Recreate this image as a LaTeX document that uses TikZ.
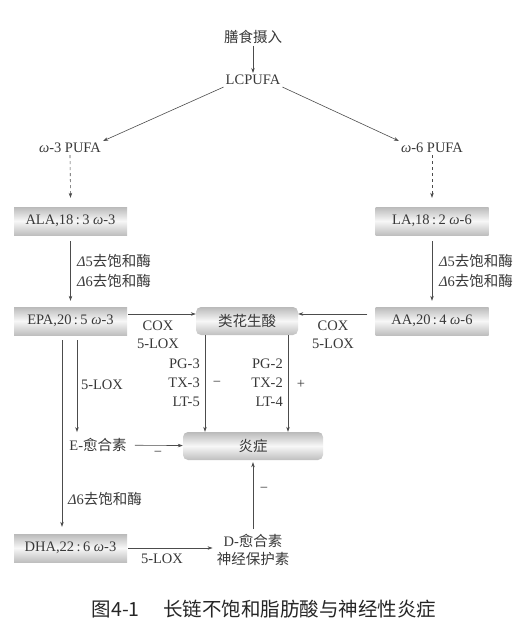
\documentclass[tikz,border=0pt]{standalone}
\usepackage{fontspec}
\setmainfont{Liberation Serif}
\newfontfamily\cjk{Noto Sans CJK SC}
\usetikzlibrary{arrows.meta}
\newcommand{\zh}[1]{{\cjk #1}}
\newcommand{\om}{{\itshape ω}}
\colorlet{textc}{black!78}
\colorlet{linec}{black!70}
\begin{document}
\begin{tikzpicture}[x=1pt,y=-1pt,
  every node/.style={text=textc,font=\fontsize{14.5}{17}\selectfont},
  txt/.style={inner sep=2pt},
  box/.style={minimum width=113pt,minimum height=28pt,inner sep=0pt,
    shading=axis,top color=black!27,bottom color=black!25,middle color=black!3},
  rbox/.style={box,rounded corners=5pt},
  arr/.style={draw=linec,line width=0.6pt,-{Stealth[length=5pt,width=3.5pt]}},
  lab/.style={inner sep=0pt},
  captxt/.style={text=black!85,font=\cjk\fontsize{19.5}{22}\selectfont}]
\useasboundingbox (0,0) rectangle (524,633);
% nodes
\node[txt] (diet) at (253,37) {\zh{膳食摄入}};
\node[txt] (lc) at (253,80) {LCPUFA};
\node[txt] (w3) at (70,148) {\om-3 PUFA};
\node[txt] (w6) at (432,148) {\om-6 PUFA};
\node[box] (ala) at (70.5,221) {ALA,18\,:\,3 \om-3};
\node[box] (la) at (432,221) {LA,18\,:\,2 \om-6};
\node[box] (epa) at (70.5,321) {EPA,20\,:\,5 \om-3};
\node[rbox,minimum width=102pt] (eic) at (247,321) {\zh{类花生酸}};
\node[box] (aa) at (432,321) {AA,20\,:\,4 \om-6};
\node[rbox,minimum width=140pt] (inf) at (253,446) {\zh{炎症}};
\node[txt] (eres) at (98,445) {E-\zh{愈合素}};
\node[box] (dha) at (70.5,548) {DHA,22\,:\,6 \om-3};
\node[txt,align=center,font=\fontsize{14.5}{18}\selectfont] (dres) at (253,550) {D-\zh{愈合素}\\\zh{神经保护素}};
% labels
\node[lab,anchor=west] (l1) at (77,261) {{\itshape Δ}5\zh{去饱和酶}};
\node[lab,anchor=west] (l2) at (77,281) {{\itshape Δ}6\zh{去饱和酶}};
\node[lab,anchor=west] (r1) at (439,261) {{\itshape Δ}5\zh{去饱和酶}};
\node[lab,anchor=west] (r2) at (439,281) {{\itshape Δ}6\zh{去饱和酶}};
\node[lab] (c1) at (158,326) {COX};
\node[lab] (c2) at (158,344) {5-LOX};
\node[lab] (c3) at (333,326) {COX};
\node[lab] (c4) at (333,344) {5-LOX};
\node[lab,anchor=east,align=right,font=\fontsize{14.5}{19}\selectfont] (pg3) at (200,383) {PG-3\\TX-3\\LT-5};
\node[lab,anchor=east,align=right,font=\fontsize{14.5}{19}\selectfont] (pg2) at (283,383) {PG-2\\TX-2\\LT-4};
\node[lab] (m1) at (217,384) {−};
\node[lab] (p1) at (301,384) {+};
\node[lab] (lox) at (102,385) {5-LOX};
\node[lab] (m2) at (158,454) {−};
\node[lab] (m3) at (264,490) {−};
\node[lab,anchor=west] (d6) at (68,499) {{\itshape Δ}6\zh{去饱和酶}};
\node[lab] (lox2) at (162,559) {5-LOX};
\node[captxt] (caption) at (264,609) {图4-1\hspace{1.2em}长链不饱和脂肪酸与神经性炎症};
% connectors
\draw[arr] (diet) -- (lc);
\draw[arr] (lc.south west) -- (w3.north east);
\draw[arr] (lc.south east) -- (w6.north west);
\draw[arr,dashed] (w3.south) -- ([yshift=9pt]ala.north);
\draw[arr,dashed] (w6.south) -- ([yshift=9pt]la.north);
\draw[arr,shorten <=6pt,shorten >=6pt] (ala.south) -- (epa.north);
\draw[arr,shorten <=6pt,shorten >=6pt] (la.south) -- (aa.north);
\draw[arr,shorten <=1pt] ([yshift=7pt]epa.east) -- ([yshift=7pt]eic.west);
\draw[arr,shorten <=8pt] ([yshift=7pt]aa.west) -- ([yshift=7pt]eic.east);
\draw[arr] ([xshift=-42pt]eic.south) -- ([xshift=-42pt]eic.south |- inf.north);
\draw[arr] ([xshift=41pt]eic.south) -- ([xshift=41pt]eic.south |- inf.north);
\draw[arr,shorten <=5pt,shorten >=7pt] ([xshift=-8.5pt]epa.south) -- ([xshift=-8.5pt]epa.south |- dha.north);
\draw[arr,shorten <=5pt,shorten >=4pt] ([xshift=6.5pt]epa.south) -- ([xshift=6.5pt]epa.south |- eres.north);
\draw[arr,shorten <=6pt] (eres) -- (inf);
\draw[arr,shorten <=3pt,shorten >=2pt] (dres) -- (inf);
\draw[arr,shorten <=1pt,shorten >=2pt] (dha.east) -- (dha.east -| dres.west);
\end{tikzpicture}
\end{document}
